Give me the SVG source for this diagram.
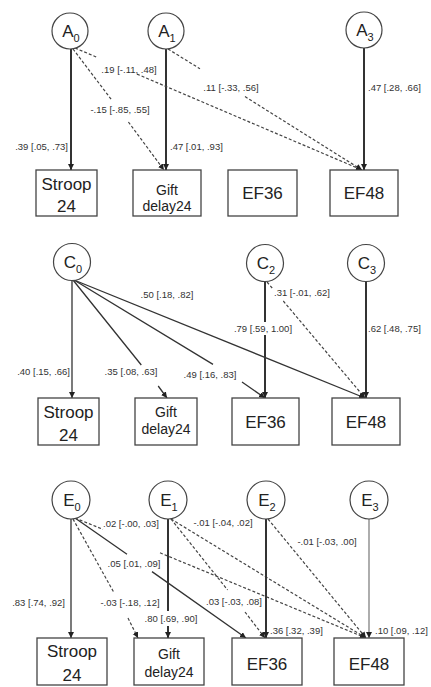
<svg xmlns="http://www.w3.org/2000/svg" width="431" height="687" viewBox="0 0 431 687">
<defs>
<marker id="ah" markerUnits="userSpaceOnUse" markerWidth="7" markerHeight="7" refX="6" refY="3" orient="auto">
<path d="M0,0 L6,3 L0,6 z" fill="#222"/>
</marker>
<style>
.c{fill:#fff;stroke:#444;stroke-width:1.2}
.b{fill:#fff;stroke:#444;stroke-width:1.3}
.nt{font-family:"Liberation Sans",Arial,sans-serif;font-size:17px;fill:#222;text-anchor:middle}
.sub{font-size:11px}
.bt{font-family:"Liberation Sans",Arial,sans-serif;font-size:17px;fill:#222;text-anchor:middle}
.gt{font-family:"Liberation Sans",Arial,sans-serif;font-size:14px;fill:#222;text-anchor:middle}
.l{font-family:"Liberation Sans",Arial,sans-serif;font-size:9.5px;fill:#333}
.m{text-anchor:middle}
.e{text-anchor:end}
.s{fill:none;stroke:#333;stroke-width:1.3;marker-end:url(#ah)}
.k{fill:none;stroke:#333;stroke-width:2;marker-end:url(#ah)}
.d{fill:none;stroke:#444;stroke-width:1.2;stroke-dasharray:3 2;marker-end:url(#ah)}
.g{fill:none;stroke:#777;stroke-width:1.2;marker-end:url(#ah)}
</style>
</defs>
<rect width="431" height="687" fill="#fff"/>

<g id="connectors">
<!-- top panel -->
<path class="k" d="M71,49 L71,170"/>
<path class="k" d="M166,49 L166,170"/>
<path class="k" d="M364,48 L364,170"/>
<path class="d" d="M75,48 L97,57.3 M137,74.1 L362,170"/>
<path class="d" d="M168,49 L200,68.8 M245,96.6 L362,170"/>
<path class="d" d="M73,49 L111.7,100 M128.4,122 L164,170"/>
<!-- middle panel -->
<path class="s" d="M72,281 L72,398"/>
<path class="s" d="M73,280 L141.3,365 M158.2,386 L167,398"/>
<path class="s" d="M74,280 L213,364.4 M242,382 L265,398"/>
<path class="s" d="M74,280 L365,398"/>
<path class="k" d="M265,282 L265,322 M265,335 L265,398"/>
<path class="d" d="M267,282 L272.2,288 M283.3,301 L365,398"/>
<path class="k" d="M366,282 L366,398"/>
<!-- bottom panel -->
<path class="s" d="M71,519 L71,638"/>
<path class="d" d="M73,519 L113.6,592 M128,618 L138,638"/>
<path class="s" d="M75,518 L127,554.2 M152,571.6 L246,638"/>
<path class="d" d="M75,518 L103,529.4 M160,552.8 L366,638"/>
<path class="k" d="M168,519 L168,611 M168,626 L168,638"/>
<path class="d" d="M171,519 L227.6,590 M245,612 L265,638"/>
<path class="d" d="M171,519 L366,638"/>
<path class="k" d="M266,519 L266,638"/>
<path class="d" d="M268,519 L366,638"/>
<path class="g" d="M369,519 L369,638"/>
</g>

<g id="labels">
<text class="l e" x="68" y="150">.39 [.05, .73]</text>
<text class="l" x="170" y="150">.47 [.01, .93]</text>
<text class="l m" x="129" y="73">.19 [-.11, .48]</text>
<text class="l m" x="120" y="113">-.15 [-.85, .55]</text>
<text class="l m" x="231" y="91">.11 [-.33, .56]</text>
<text class="l" x="368" y="91">.47 [.28, .66]</text>

<text class="l e" x="70" y="375">.40 [.15, .66]</text>
<text class="l m" x="131" y="375">.35 [.08, .63]</text>
<text class="l m" x="210" y="378">.49 [.16, .83]</text>
<text class="l m" x="167" y="298">.50 [.18, .82]</text>
<text class="l m" x="263" y="332">.79 [.59, 1.00]</text>
<text class="l m" x="302" y="296">.31 [-.01, .62]</text>
<text class="l" x="368" y="332">.62 [.48, .75]</text>

<text class="l e" x="65" y="606">.83 [.74, .92]</text>
<text class="l m" x="130" y="606">-.03 [-.18, .12]</text>
<text class="l m" x="171" y="622">.80 [.69, .90]</text>
<text class="l m" x="134" y="567">.05 [.01, .09]</text>
<text class="l m" x="131" y="527">.02 [-.00, .03]</text>
<text class="l m" x="223" y="526">-.01 [-.04, .02]</text>
<text class="l m" x="234" y="605">.03 [-.03, .08]</text>
<text class="l" x="270" y="634">.36 [.32, .39]</text>
<text class="l m" x="327" y="545">-.01 [-.03, .00]</text>
<text class="l" x="375" y="634">.10 [.09, .12]</text>
</g>

<!-- top nodes -->
<g id="A0"><circle class="c" cx="70" cy="31" r="18"/><text class="nt" x="71" y="37">A<tspan class="sub" dy="5">0</tspan></text></g>
<g id="A1"><circle class="c" cx="166" cy="31" r="18"/><text class="nt" x="167" y="37">A<tspan class="sub" dy="5">1</tspan></text></g>
<g id="A3"><circle class="c" cx="364" cy="30" r="18"/><text class="nt" x="365" y="36">A<tspan class="sub" dy="5">3</tspan></text></g>
<g id="Stroop24_A"><rect class="b" x="36" y="170" width="61" height="46"/><text class="bt" x="66.5" y="190">Stroop</text><text class="bt" x="66.5" y="212">24</text></g>
<g id="Gift24_A"><rect class="b" x="133" y="170" width="68" height="46"/><text class="gt" x="167" y="195">Gift</text><text class="gt" x="167" y="211">delay24</text></g>
<g id="EF36_A"><rect class="b" x="228" y="170" width="69" height="46"/><text class="bt" x="262.5" y="199">EF36</text></g>
<g id="EF48_A"><rect class="b" x="330" y="170" width="68" height="46"/><text class="bt" x="364" y="199">EF48</text></g>

<!-- middle nodes -->
<g id="C0"><circle class="c" cx="72" cy="262" r="18.5"/><text class="nt" x="73" y="268">C<tspan class="sub" dy="5">0</tspan></text></g>
<g id="C2"><circle class="c" cx="265" cy="263" r="18.5"/><text class="nt" x="266" y="269">C<tspan class="sub" dy="5">2</tspan></text></g>
<g id="C3"><circle class="c" cx="366" cy="263" r="18.5"/><text class="nt" x="367" y="269">C<tspan class="sub" dy="5">3</tspan></text></g>
<g id="Stroop24_C"><rect class="b" x="38" y="398" width="61" height="47"/><text class="bt" x="68.5" y="418">Stroop</text><text class="bt" x="68.5" y="441">24</text></g>
<g id="Gift24_C"><rect class="b" x="135" y="398" width="62" height="47"/><text class="gt" x="166" y="417">Gift</text><text class="gt" x="166" y="434">delay24</text></g>
<g id="EF36_C"><rect class="b" x="232" y="398" width="67" height="47"/><text class="bt" x="265.5" y="428">EF36</text></g>
<g id="EF48_C"><rect class="b" x="332" y="398" width="68" height="47"/><text class="bt" x="366" y="428">EF48</text></g>

<!-- bottom nodes -->
<g id="E0"><circle class="c" cx="71" cy="500" r="19"/><text class="nt" x="72" y="506">E<tspan class="sub" dy="5">0</tspan></text></g>
<g id="E1"><circle class="c" cx="168" cy="500" r="19"/><text class="nt" x="169" y="506">E<tspan class="sub" dy="5">1</tspan></text></g>
<g id="E2"><circle class="c" cx="266" cy="500" r="19"/><text class="nt" x="267" y="506">E<tspan class="sub" dy="5">2</tspan></text></g>
<g id="E3"><circle class="c" cx="369" cy="500" r="19"/><text class="nt" x="370" y="506">E<tspan class="sub" dy="5">3</tspan></text></g>
<g id="Stroop24_E"><rect class="b" x="37" y="638" width="70" height="47"/><text class="bt" x="72" y="657">Stroop</text><text class="bt" x="72" y="681">24</text></g>
<g id="Gift24_E"><rect class="b" x="134" y="638" width="70" height="47"/><text class="gt" x="169" y="659">Gift</text><text class="gt" x="169" y="677">delay24</text></g>
<g id="EF36_E"><rect class="b" x="232" y="638" width="70" height="47"/><text class="bt" x="267" y="670">EF36</text></g>
<g id="EF48_E"><rect class="b" x="334" y="638" width="70" height="47"/><text class="bt" x="369" y="670">EF48</text></g>
</svg>
